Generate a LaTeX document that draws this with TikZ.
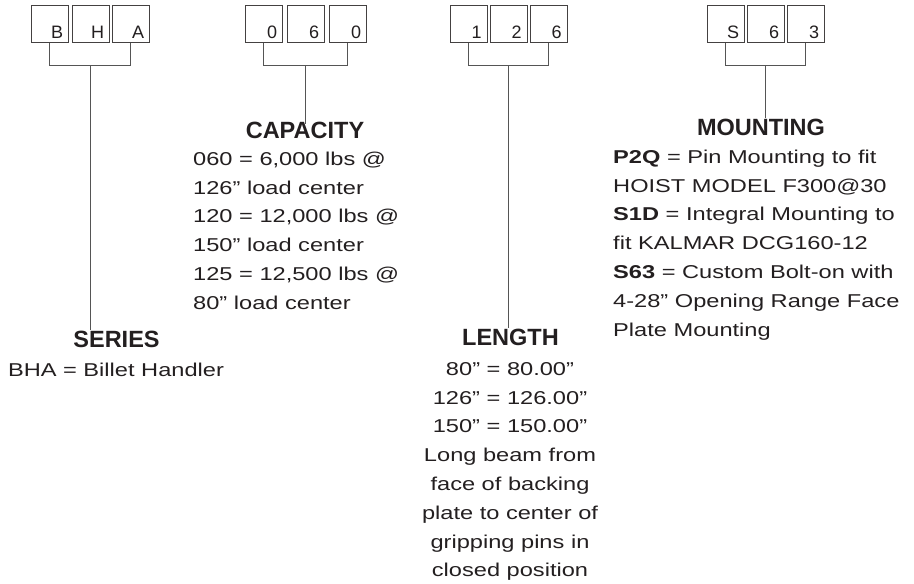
\documentclass[tikz,border=0pt]{standalone}
\usepackage{fontspec}
\setmainfont{Liberation Sans}[FakeStretch=1.27]
\newfontfamily\titlefam{Liberation Sans}
\definecolor{ink}{HTML}{231F20}
\definecolor{rulec}{HTML}{555555}
\begin{document}
\begin{tikzpicture}[x=1pt,y=-1pt,
  box/.style={draw=ink!85, line width=0.9pt, minimum width=37pt, minimum height=37pt, inner sep=0pt, anchor=north west},
  boxtxt/.style={font=\titlefam\fontsize{18}{20}\selectfont, text=ink, inner sep=0pt, anchor=base east},
  conn/.style={draw=rulec, line width=1pt},
  title/.style={font=\titlefam\bfseries\fontsize{23.5}{28}\selectfont, text=ink, inner sep=0pt, anchor=base},
  body/.style={font=\fontsize{18.6}{28.8}\selectfont, text=ink, inner sep=0pt},
]
\useasboundingbox (0,0) rectangle (914,584);

% ---------- boxes ----------
\node[box] (s1) at (31,5) {};
\node[box] (s2) at (72,5) {};
\node[box] (s3) at (112,5) {};
\node[box] (c1) at (245,5) {};
\node[box] (c2) at (287,5) {};
\node[box] (c3) at (329,5) {};
\node[box] (l1) at (449.5,5) {};
\node[box] (l2) at (489.5,5) {};
\node[box] (l3) at (529.5,5) {};
\node[box] (m1) at (707,5) {};
\node[box] (m2) at (747,5) {};
\node[box] (m3) at (787,5) {};

\foreach \b/\t in {s1/B,s2/H,s3/A,c1/0,c2/6,c3/0,l1/1,l2/2,l3/6,m1/S,m2/6,m3/3}
  \node[boxtxt] (\b t) at ([xshift=-5.5pt,yshift=4.5pt]\b.south east) {\t};

% ---------- titles ----------
\node[title] (st) at (116.5,347) {SERIES};
\node[title] (ct) at (305,138) {CAPACITY};
\node[title] (lt) at (510.5,345) {LENGTH};
\node[title] (mt) at (761,135) {MOUNTING};

% ---------- brackets ----------
\foreach \g in {s,c,l,m}{
  \path (\g1.south) ++(0,23) coordinate (\g l);
  \path (\g3.south) ++(0,23) coordinate (\g r);
  \draw[conn] (\g1.south) -- (\g l) -- (\g r) -- (\g3.south);
  \path (\g l) -- (\g r) coordinate[pos=0.5] (\g m);
}
\draw[conn] (sm) -- (sm |- st.north);
\draw[conn] (cm) -- ([yshift=-3pt]cm |- ct.north);
\draw[conn] (lm) -- (lm |- lt.north);
\draw[conn] (mm) -- (mm |- mt.north);

% ---------- texts ----------
\node[body, anchor=base] (sx) at (116,376) {BHA = Billet Handler};

\node[body, anchor=north west, align=left] (cx) at (193,151)
  {\rule{0pt}{14pt}060 = 6,000 lbs @\\
   126” load center\\
   120 = 12,000 lbs @\\
   150” load center\\
   125 = 12,500 lbs @\\
   80” load center};

\node[body, anchor=north, align=center] (lx) at (510,361)
  {\rule{0pt}{14pt}80” = 80.00”\\
   126” = 126.00”\\
   150” = 150.00”\\
   Long beam from\\
   face of backing\\
   plate to center of\\
   gripping pins in\\
   closed position};

\node[body, anchor=north west, align=left] (mx) at (613,149)
  {\rule{0pt}{14pt}\textbf{P2Q} = Pin Mounting to fit\\
   HOIST MODEL F300@30\\
   \textbf{S1D} = Integral Mounting to\\
   fit KALMAR DCG160-12\\
   \textbf{S63} = Custom Bolt-on with\\
   4-28” Opening Range Face\\
   Plate Mounting};
\end{tikzpicture}
\end{document}
